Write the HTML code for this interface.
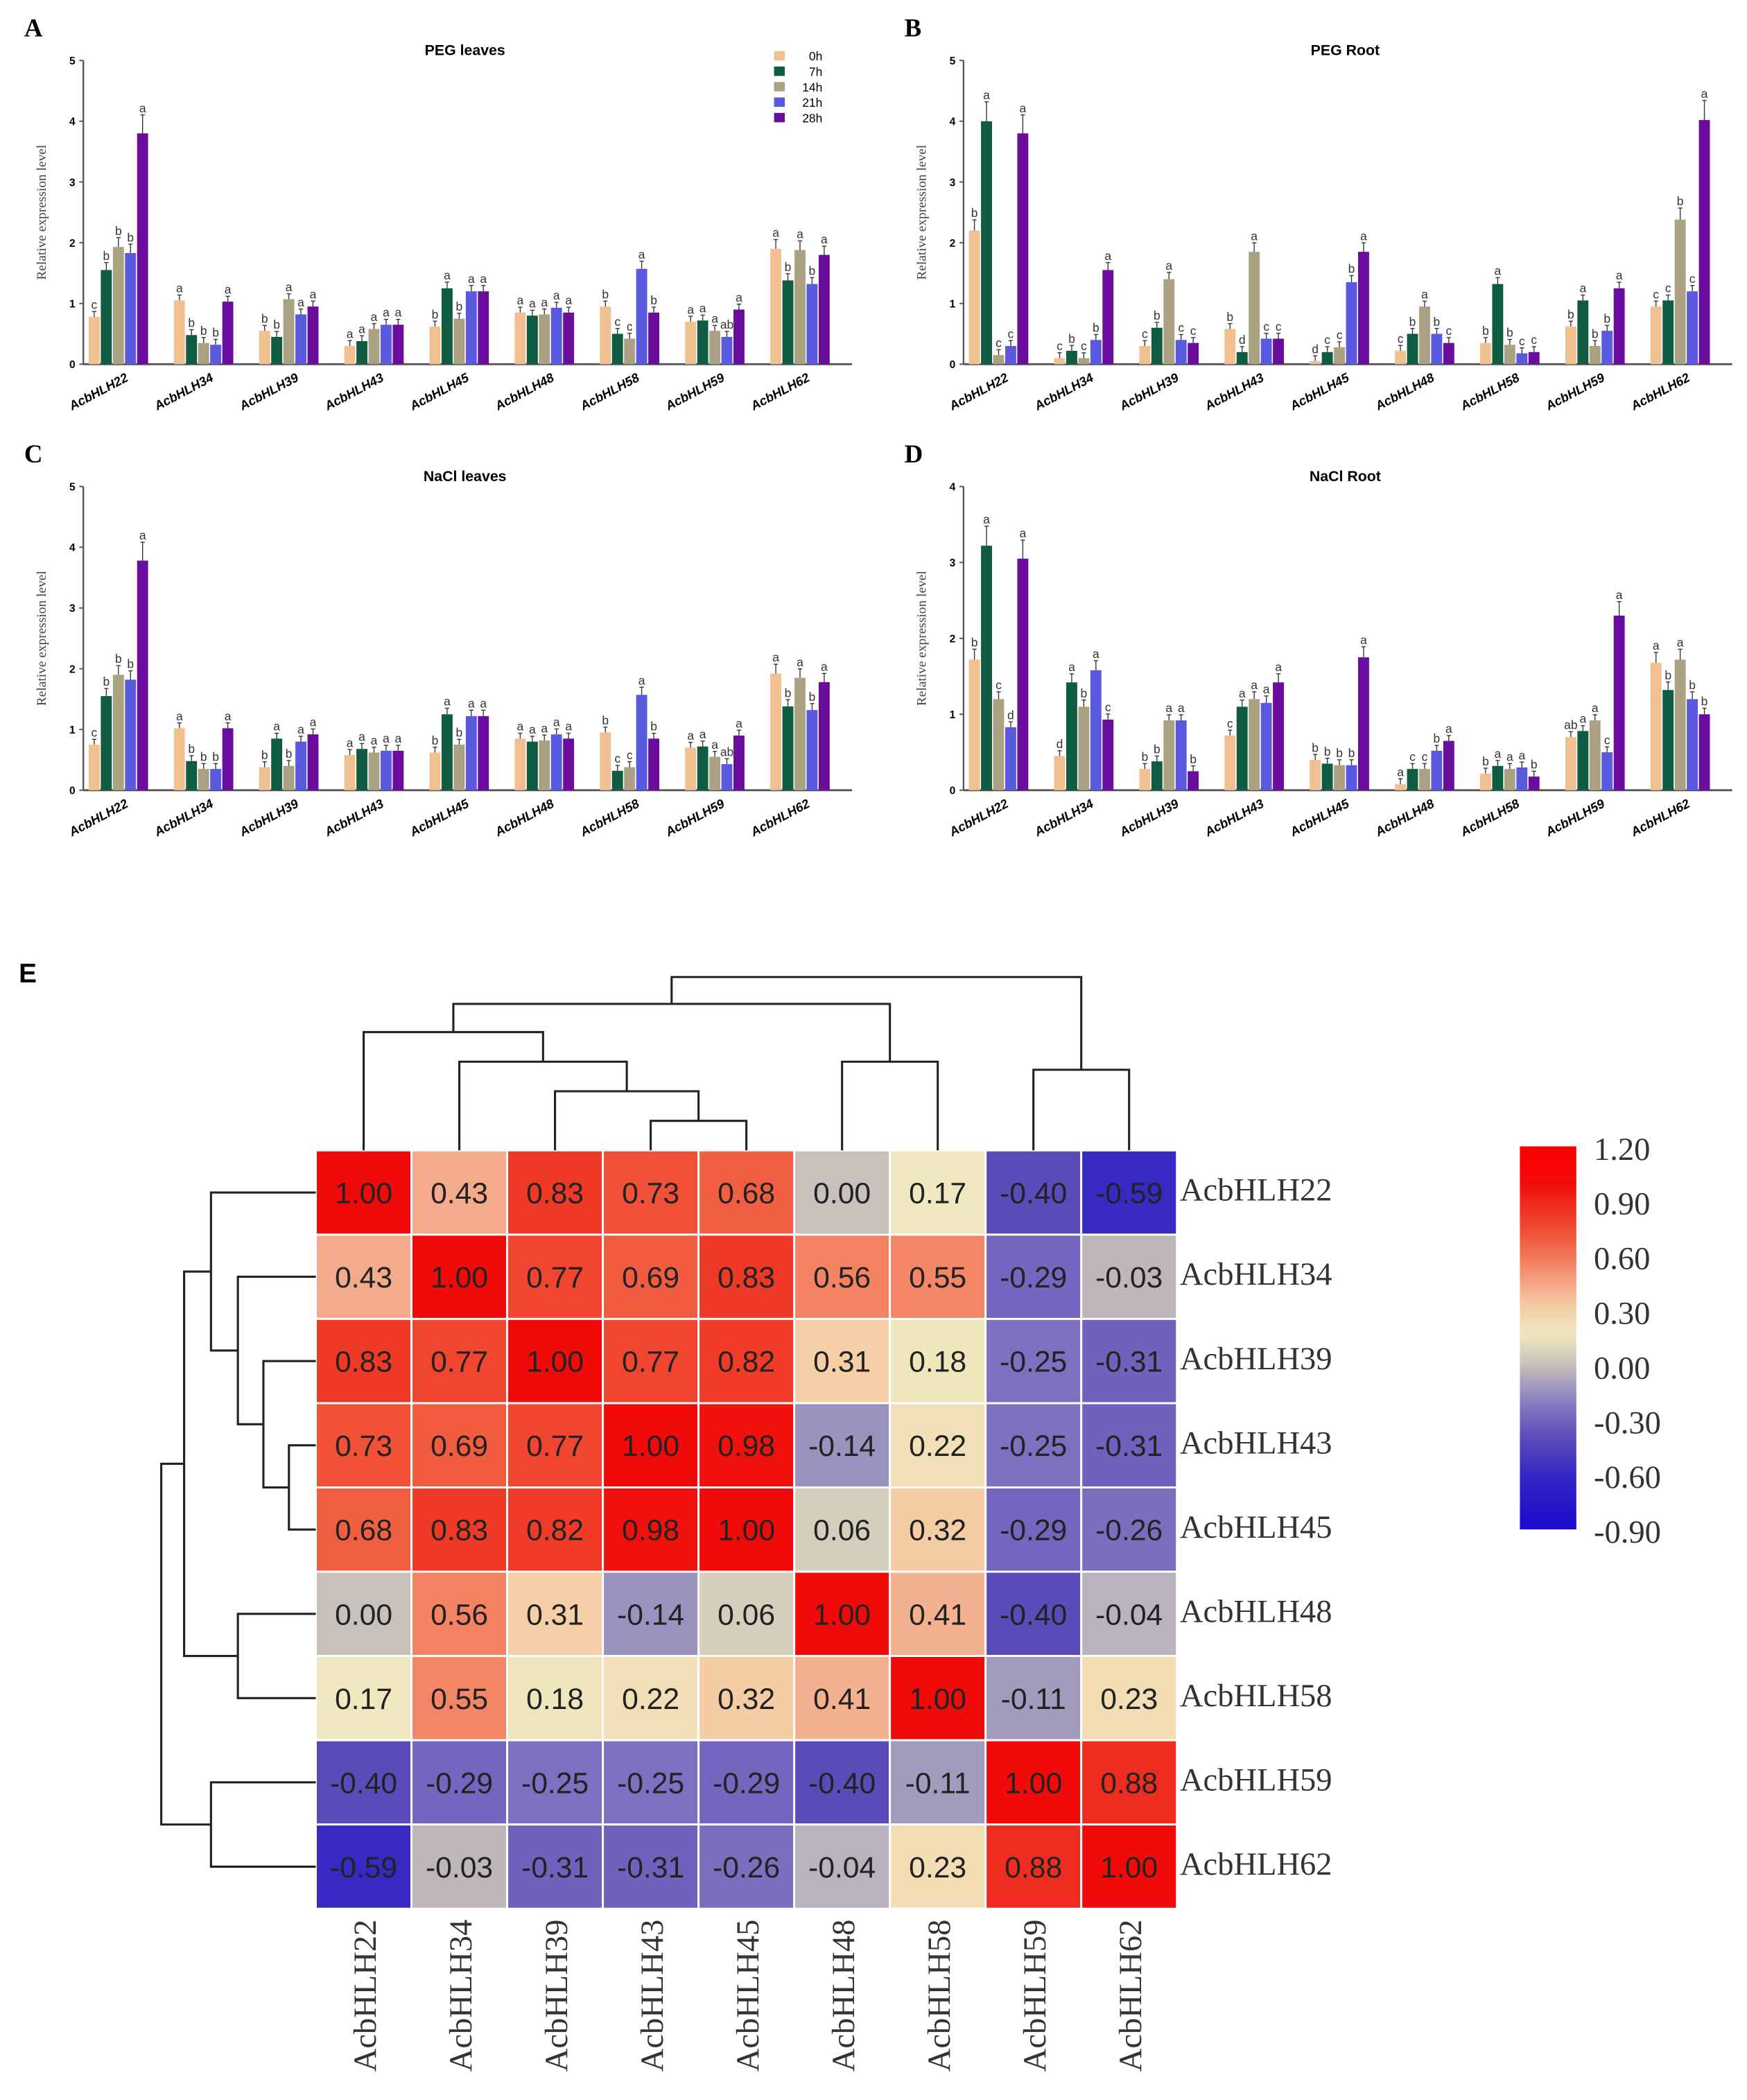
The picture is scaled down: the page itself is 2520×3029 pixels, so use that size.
<!DOCTYPE html>
<html><head><meta charset="utf-8"><style>
html,body{margin:0;padding:0;background:#fff}
svg{display:block}
</style></head><body>
<svg id="fig" width="2520" height="3029" viewBox="0 0 1300 1562.6" xmlns="http://www.w3.org/2000/svg" font-family="Liberation Sans, sans-serif">
<g id="bars"></g>
<g id="heat"></g>
</svg>
<script>
const genes=["AcbHLH22","AcbHLH34","AcbHLH39","AcbHLH43","AcbHLH45","AcbHLH48","AcbHLH58","AcbHLH59","AcbHLH62"];
const times=["0h","7h","14h","21h","28h"];
const colors=["#f0c090","#0f5c42","#aaa282","#5a5ae0","#6a0c9c"];
const pegLeaves=[[0.78,1.55,1.93,1.83,3.8],[1.05,0.48,0.35,0.32,1.03],[0.55,0.45,1.07,0.82,0.95],[0.3,0.38,0.58,0.65,0.65],[0.62,1.25,0.75,1.2,1.2],[0.85,0.8,0.82,0.93,0.85],[0.95,0.5,0.42,1.57,0.85],[0.7,0.72,0.55,0.45,0.9],[1.9,1.38,1.88,1.32,1.8]];
const pegLeavesL=[["c","b","b","b","a"],["a","b","b","b","a"],["b","b","a","a","a"],["a","a","a","a","a"],["b","a","b","a","a"],["a","a","a","a","a"],["b","c","c","a","b"],["a","a","a","ab","a"],["a","b","a","b","a"]];
const pegRoot=[[2.2,4.0,0.15,0.3,3.8],[0.1,0.22,0.1,0.4,1.55],[0.3,0.6,1.4,0.4,0.35],[0.58,0.2,1.85,0.42,0.42],[0.05,0.2,0.28,1.35,1.85],[0.22,0.5,0.95,0.5,0.35],[0.35,1.32,0.32,0.18,0.2],[0.62,1.05,0.3,0.55,1.25],[0.95,1.05,2.38,1.2,4.02]];
const pegRootL=[["b","a","c","c","a"],["c","b","c","b","a"],["c","b","a","c","c"],["b","d","a","c","c"],["d","c","c","b","a"],["c","b","a","b","c"],["b","a","b","c","c"],["b","a","b","b","a"],["c","c","b","c","a"]];
const naclLeaves=[[0.75,1.55,1.9,1.82,3.78],[1.02,0.48,0.35,0.35,1.02],[0.38,0.85,0.4,0.8,0.92],[0.58,0.68,0.62,0.65,0.65],[0.62,1.25,0.75,1.22,1.22],[0.85,0.8,0.82,0.92,0.85],[0.95,0.32,0.38,1.57,0.85],[0.7,0.72,0.55,0.43,0.9],[1.92,1.38,1.85,1.32,1.78]];
const naclLeavesL=[["c","b","b","b","a"],["a","b","b","b","a"],["b","a","b","a","a"],["a","a","a","a","a"],["b","a","b","a","a"],["a","a","a","a","a"],["b","c","c","a","b"],["a","a","a","ab","a"],["a","b","a","b","a"]];
const naclRoot=[[1.72,3.22,1.2,0.83,3.05],[0.45,1.42,1.1,1.58,0.93],[0.28,0.38,0.92,0.92,0.25],[0.72,1.1,1.2,1.15,1.42],[0.4,0.35,0.33,0.33,1.75],[0.08,0.28,0.28,0.52,0.65],[0.22,0.32,0.28,0.3,0.18],[0.7,0.78,0.92,0.5,2.3],[1.68,1.32,1.72,1.2,1.0]];
const naclRootL=[["b","a","c","d","a"],["d","a","b","a","c"],["b","b","a","a","b"],["c","a","a","a","a"],["b","b","b","b","a"],["a","c","c","b","a"],["b","a","a","a","b"],["ab","a","a","c","a"],["a","b","a","b","b"]];
const yTicks5=[0,1,2,3,4,5];
const yTicks4=[0,1,2,3,4];
const corr=[[1.00,0.43,0.83,0.73,0.68,0.00,0.17,-0.40,-0.59],[0.43,1.00,0.77,0.69,0.83,0.56,0.55,-0.29,-0.03],[0.83,0.77,1.00,0.77,0.82,0.31,0.18,-0.25,-0.31],[0.73,0.69,0.77,1.00,0.98,-0.14,0.22,-0.25,-0.31],[0.68,0.83,0.82,0.98,1.00,0.06,0.32,-0.29,-0.26],[0.00,0.56,0.31,-0.14,0.06,1.00,0.41,-0.40,-0.04],[0.17,0.55,0.18,0.22,0.32,0.41,1.00,-0.11,0.23],[-0.40,-0.29,-0.25,-0.25,-0.29,-0.40,-0.11,1.00,0.88],[-0.59,-0.03,-0.31,-0.31,-0.26,-0.04,0.23,0.88,1.00]];
const cbTicks=["1.20","0.90","0.60","0.30","0.00","-0.30","-0.60","-0.90"];

const NS="http://www.w3.org/2000/svg";
const SERIF='font-family:"Liberation Serif",serif';
function mk(tag,attrs,parent){const e=document.createElementNS(NS,tag);for(const k in attrs)e.setAttribute(k,attrs[k]);parent.appendChild(e);return e;}
const barsG=document.getElementById('bars');
function panel(cfg){
  const g=mk('g',{},barsG);
  
  
  const x0=cfg.x0,y0=cfg.y0,ymax=cfg.ymax,h=226,w=572;
  const ys=v=>y0-v/ymax*h;
  const lt=mk('text',{x:x0-44,y:y0-244,'font-size':19,'font-weight':'bold',style:SERIF},g);lt.textContent=cfg.letter;
  
  
  const t=mk('text',{x:x0+284,y:y0-230,'font-size':11,'font-weight':'bold','text-anchor':'middle'},g);t.textContent=cfg.title;
  
  
  mk('line',{x1:x0,y1:y0-h,x2:x0,y2:y0,stroke:'#555','stroke-width':1.2},g);
  mk('line',{x1:x0,y1:y0,x2:x0+w,y2:y0,stroke:'#555','stroke-width':1.5},g);
  cfg.ticks.forEach(v=>{
    mk('line',{x1:x0-3,y1:ys(v),x2:x0,y2:ys(v),stroke:'#555'},g);
    const tt=mk('text',{x:x0-6,y:ys(v)+3,'font-size':8,'font-weight':'bold','text-anchor':'end'},g);tt.textContent=v;
    
    
  });
  const yt=mk('text',{x:0,y:0,'font-size':10,style:SERIF,'text-anchor':'middle',fill:'#444',transform:`translate(${x0-28},${y0-113}) rotate(-90)`},g);yt.textContent='Relative expression level';
  
  
  cfg.data.forEach((row,i)=>{
    const cx=x0+26+i*63.4;
    row.forEach((v,j)=>{
      const bx=cx-22+j*9;
      const r=mk('rect',{x:bx,y:ys(v),width:8.2,height:y0-ys(v),fill:colors[j]},g);
      
      
      const ey=ys(v)-Math.max(4,v/ymax*h*0.08);
      mk('line',{x1:bx+4.1,y1:ys(v),x2:bx+4.1,y2:ey,stroke:'#333','stroke-width':0.7},g);
      mk('line',{x1:bx+2.5,y1:ey,x2:bx+5.7,y2:ey,stroke:'#333','stroke-width':0.7},g);
      const lb=mk('text',{x:bx+4.1,y:ey-2,'font-size':9,'text-anchor':'middle',fill:'#333'},g);lb.textContent=cfg.labels[i][j];
      
      
    });
    const ct=mk('text',{x:0,y:0,'font-size':9.5,'font-weight':'bold','font-style':'italic','text-anchor':'end',transform:`translate(${cx+8},${y0+12}) rotate(-28)`},g);ct.textContent=genes[i];
    
    
  });
  if(cfg.legend){
    const lg=mk('g',{},g);
    
    
    times.forEach((tm,j)=>{
      mk('rect',{x:576,y:38+j*11.5,width:8,height:7,fill:colors[j]},lg);
      const tx=mk('text',{x:612,y:45+j*11.5,'font-size':9,'text-anchor':'end'},lg);tx.textContent=tm;
      
      
    });
  }
}
panel({name:'peg-leaves-chart',letter:'A',title:'PEG leaves',x0:62,y0:271,ymax:5,ticks:yTicks5,data:pegLeaves,labels:pegLeavesL,legend:true});
panel({name:'peg-root-chart',letter:'B',title:'PEG Root',x0:717,y0:271,ymax:5,ticks:yTicks5,data:pegRoot,labels:pegRootL});
panel({name:'nacl-leaves-chart',letter:'C',title:'NaCl leaves',x0:62,y0:588,ymax:5,ticks:yTicks5,data:naclLeaves,labels:naclLeavesL});
panel({name:'nacl-root-chart',letter:'D',title:'NaCl Root',x0:717,y0:588,ymax:4,ticks:yTicks4,data:naclRoot,labels:naclRootL});

const H=document.getElementById('heat');
const stops=[[-0.9,[26,10,205]],[-0.6,[52,40,195]],[-0.4,[90,76,184]],[-0.25,[125,112,192]],[-0.1,[165,158,190]],[0,[200,192,186]],[0.17,[240,232,192]],[0.32,[244,205,165]],[0.45,[244,165,135]],[0.6,[242,118,85]],[0.75,[240,75,50]],[0.85,[238,52,36]],[1.0,[240,10,10]],[1.2,[255,0,0]]];
function cmap(v){for(let k=1;k<stops.length;k++){if(v<=stops[k][0]){const a=stops[k-1],b=stops[k];const t=(v-a[0])/(b[0]-a[0]);const c=a[1].map((x,i)=>Math.round(x+(b[1][i]-x)*t));return `rgb(${c})`;}}return 'rgb(255,0,0)';}
const E=mk('text',{x:14,y:731,'font-size':20,'font-weight':'bold'},H);E.textContent='E';


const gx=235,gy=856,cw=71.2,rh=62.7;
corr.forEach((row,i)=>row.forEach((v,j)=>{
  const r=mk('rect',{x:gx+j*cw,y:gy+i*rh,width:cw,height:rh,fill:cmap(v),stroke:'#fff','stroke-width':1.5},H);
  
  
  const t=mk('text',{x:gx+j*cw+cw/2,y:gy+i*rh+rh/2+8,'font-size':22,'text-anchor':'middle',fill:'#222'},H);t.textContent=v.toFixed(2);
  
  
}));
genes.forEach((gname,i)=>{
  const t=mk('text',{x:878,y:gy+i*rh+rh/2+6,'font-size':24,style:SERIF,fill:'#333'},H);t.textContent=gname;
  
  
  const c=mk('text',{x:0,y:0,'font-size':24,style:SERIF,fill:'#333','text-anchor':'end',transform:`translate(${gx+i*cw+cw/2+9},${gy+9*rh+8}) rotate(-90)`},H);c.textContent=gname;
  
  
});
const cx=j=>gx+j*cw+cw/2, ry=i=>gy+i*rh+rh/2;
const dg=mk('g',{stroke:'#222','stroke-width':1.6,fill:'none'},H);


function U(a,b,lev,top){
  if(top) mk('path',{d:`M${a[0]},${a[1]}V${lev}H${b[0]}V${b[1]}`},dg);
  else mk('path',{d:`M${a[1]},${a[0]}H${lev}V${b[0]}H${b[1]}`},dg);
  return [(a[0]+b[0])/2,lev];
}
function tree(top,p,base,levs){
  const L=i=>[p(i),base];
  const n45=U(L(3),L(4),levs[0],top);
  const n39=U(L(2),n45,levs[1],top);
  const n34=U(L(1),n39,levs[2],top);
  const n22=U(L(0),n34,levs[3],top);
  const n48=U(L(5),L(6),levs[2],top);
  const n59=U(L(7),L(8),levs[4],top);
  const nA=U(n22,n48,levs[5],top);
  U(nA,n59,levs[6],top);
}
tree(true,cx,gy,[834,812,790,768,796,747,727]);
tree(false,ry,gx,[215,196,177,157,157,137,120]);
const cb=mk('g',{},H);


const defs=mk('defs',{},cb);
const lg=mk('linearGradient',{id:'cbg',x1:0,y1:1,x2:0,y2:0},defs);
for(let k=0;k<=30;k++){const v=-0.9+2.1*k/30;mk('stop',{offset:k/30,'stop-color':cmap(v)},lg);}
mk('rect',{x:1131,y:853,width:42,height:285,fill:'url(#cbg)'},cb);
cbTicks.forEach((s,k)=>{
  const t=mk('text',{x:1186,y:863+k*40.7,'font-size':24,style:SERIF,fill:'#333'},cb);t.textContent=s;
  
  
});
</script>
</body></html>
